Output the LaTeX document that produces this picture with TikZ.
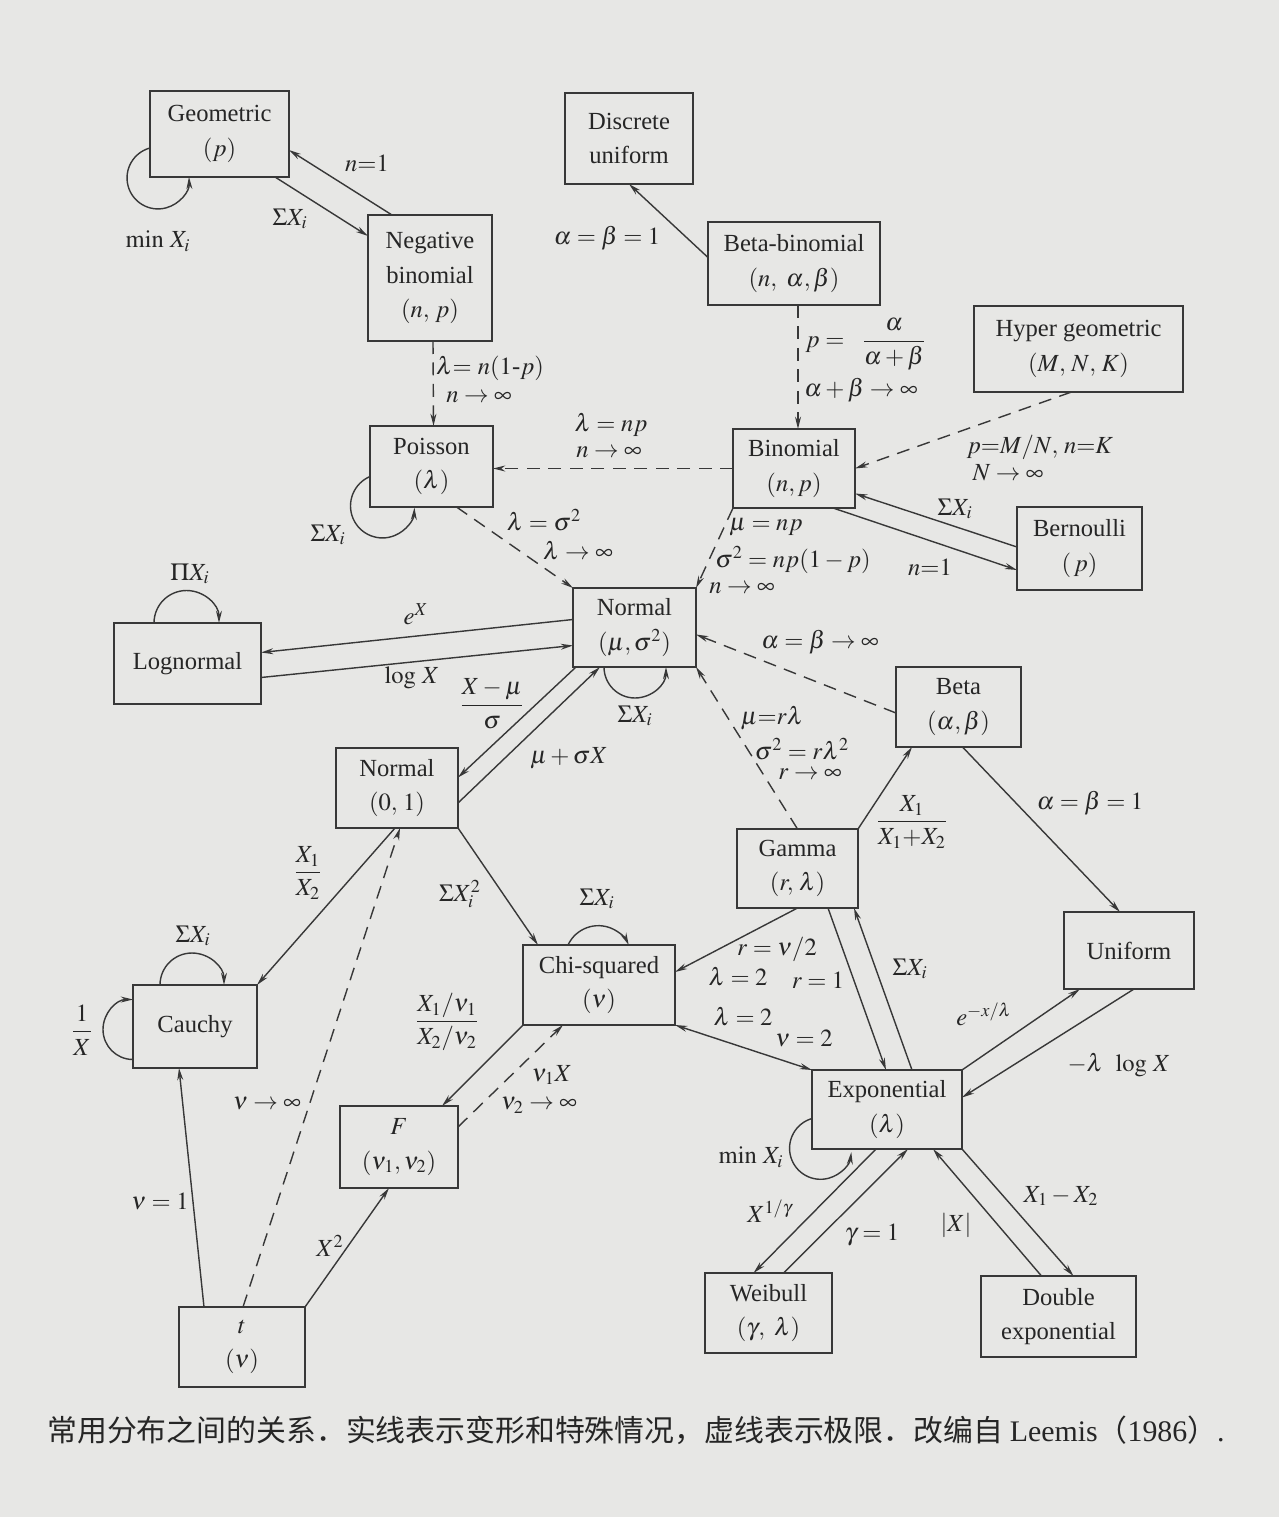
\documentclass[tikz,border=0pt]{standalone}
\usepackage{amsmath}
\usepackage{mathptmx}
\usepackage{fontspec}
\setmainfont{Liberation Serif}
\newfontfamily\cjk{Noto Sans CJK SC}
\usetikzlibrary{arrows.meta,calc}

\definecolor{bgc}{HTML}{E7E7E5}
\definecolor{linec}{HTML}{383838}
\definecolor{textc}{HTML}{262626}

\tikzset{
  wh/.style 2 args={minimum width=#1*0.02cm, minimum height=#2*0.02cm},
  box/.style={draw=linec, line width=0.9pt, inner sep=0pt, outer sep=0pt,
    align=center, text=textc, font=\fontsize{14}{19.5}\selectfont},
  lbl/.style={inner sep=0pt, text=textc, font=\fontsize{14}{17}\selectfont},
  arr/.style={draw=linec, line width=0.8pt, -{Stealth[length=7pt,width=3.4pt]}},
  twoway/.style={draw=linec, line width=0.8pt,
    {Stealth[length=7pt,width=3.4pt]}-{Stealth[length=7pt,width=3.4pt]}},
  limline/.style={dash pattern=on 0.26cm off 0.17cm},
}

\begin{document}
\begin{tikzpicture}[x=0.02cm,y=-0.02cm]
\fill[bgc] (0,0) rectangle (1279,1517);
\useasboundingbox (0,0) rectangle (1279,1517);

% ---------- distributions ----------
\node[box, wh={139}{86}]  (geo)  at (219.5,134)  {Geometric\\$(p)$};
\node[box, wh={124}{126}] (nb)   at (430,278)    {Negative\\binomial\\$(n,\,p)$};
\node[box, wh={128}{91}]  (disc) at (629,138.5)  {Discrete\\uniform};
\node[box, wh={172}{83}]  (bb)   at (794,263.5)  {Beta-binomial\\$(n,\ \alpha,\beta)$};
\node[box, wh={209}{86}]  (hyp)  at (1078.5,349) {Hyper geometric\\$(M,\,N,\,K)$};
\node[box, wh={123}{81}]  (poi)  at (431.5,466.5){Poisson\\$(\lambda)$};
\node[box, wh={122}{79}]  (bin)  at (794,468.5)  {Binomial\\$(n,p)$};
\node[box, wh={125}{83}]  (bern) at (1079.5,548.5){Bernoulli\\$(\,p)$};
\node[box, wh={123}{79}]  (nor)  at (634.5,627.5){Normal\\$(\mu,\sigma^2)$};
\node[box, wh={147}{81}]  (logn) at (187.5,663.5){Lognormal};
\node[box, wh={125}{80}]  (beta) at (958.5,707)  {Beta\\$(\alpha,\beta)$};
\node[box, wh={122}{80}]  (n01)  at (397,788)    {Normal\\$(0,\,1)$};
\node[box, wh={121}{79}]  (gam)  at (797.5,868.5){Gamma\\$(r,\,\lambda)$};
\node[box, wh={130}{77}]  (uni)  at (1129,950.5) {Uniform};
\node[box, wh={124}{83}]  (cau)  at (195,1026.5) {Cauchy};
\node[box, wh={152}{80}]  (chi)  at (599,985)    {Chi-squared\\$(\nu)$};
\node[box, wh={150}{79}]  (exp)  at (887,1109.5) {Exponential\\$(\lambda)$};
\node[box, wh={118}{82}]  (fd)   at (399,1147)   {$F$\\$(\nu_1,\nu_2)$};
\node[box, wh={127}{80}]  (wei)  at (768.5,1313) {Weibull\\$(\gamma,\ \lambda)$};
\node[box, wh={155}{81}]  (dexp) at (1058.5,1316.5){Double\\exponential};
\node[box, wh={126}{80}]  (tt)   at (242,1347)   {$t$\\$(\nu)$};

% ---------- transformations and special cases ----------
\draw[arr] ($(nb.north west)+(24,0)$) -- ($(geo.east)+(0,16)$);
\draw[arr] ($(geo.south east)+(-14,0)$) -- ($(nb.north west)+(0,21)$);
\draw[arr] ($(geo.west)+(0,14)$) arc[start angle=105,end angle=362,radius=0.62cm];

\draw[arr] ($(bb.west)+(0,-6)$) -- (disc.south);

\draw[arr] ($(bern.west)+(0,-1.5)$) -- ($(bin.east)+(0,25)$);
\draw[arr] ($(bin.south east)+(-22,0)$) -- ($(bern.west)+(0,21.5)$);

\draw[arr] ($(poi.west)+(0,10)$) arc[start angle=113,end angle=357,radius=0.64cm];

\draw[arr] ($(nor.west)+(0,-8)$) -- ($(logn.east)+(0,-11)$);
\draw[arr] ($(logn.east)+(0,14)$) -- ($(nor.west)+(0,18)$);
\draw[arr] ($(logn.north west)+(40,0)$) arc[start angle=180,end angle=0,radius=0.65cm];
\draw[arr] ($(nor.south west)+(31,0)$) arc[start angle=180,end angle=360,radius=0.62cm];

\draw[arr] ($(nor.south west)+(3,0)$) -- ($(n01.east)+(0,-10.5)$);
\draw[arr] ($(n01.east)+(0,15)$) -- ($(nor.south west)+(27,0)$);

\draw[arr] (gam.north east) -- ($(beta.south west)+(16,0)$);
\draw[arr] ($(beta.south)+(4,0)$) -- ($(uni.north)+(-9,0)$);

\draw[arr] ($(n01.south)+(-2,0)$) -- (cau.north east);
\draw[arr] (n01.south east) -- ($(chi.north west)+(15,0)$);

\draw[arr] ($(cau.north west)+(27,0)$) arc[start angle=180,end angle=0,radius=0.64cm];
\draw[arr] ($(cau.west)+(0,33)$) arc[start angle=270,end angle=90,radius=0.6cm];

\draw[arr] ($(tt.north west)+(25,0)$) -- ($(cau.south)+(-16,0)$);
\draw[arr] (tt.north east) -- ($(fd.south)+(-10,0)$);

\draw[arr] (chi.south west) -- ($(fd.north east)+(-16,0)$);
\draw[arr] ($(chi.north west)+(45,0)$) arc[start angle=155,end angle=25,radius=0.67cm];

\draw[arr] (gam.south) -- ($(chi.east)+(0,-13)$);
\draw[twoway] (chi.south east) -- (exp.north west);
\draw[arr] ($(gam.south east)+(-30,0)$) -- ($(exp.north)+(-1,0)$);
\draw[arr] ($(exp.north)+(25,0)$) -- ($(gam.south east)+(-4,0)$);

\draw[arr] (exp.north east) -- ($(uni.south)+(-49,0)$);
\draw[arr] ($(uni.south)+(5,0)$) -- ($(exp.east)+(0,-12)$);

\draw[arr] ($(exp.west)+(0,9)$) arc[start angle=106,end angle=353,radius=0.62cm];
\draw[arr] ($(exp.south west)+(64,0)$) -- ($(wei.north)+(-15,0)$);
\draw[arr] ($(wei.north)+(15,0)$) -- ($(exp.south west)+(96,0)$);
\draw[arr] ($(dexp.north)+(-17,0)$) -- ($(exp.south west)+(121,0)$);
\draw[arr] (exp.south east) -- ($(dexp.north)+(15,0)$);

% ---------- limits ----------
\draw[arr,limline] ($(nb.south)+(3,0)$) -- ($(poi.north)+(2,0)$);
\draw[arr,limline] ($(bb.south)+(4,0)$) -- ($(bin.north)+(4,0)$);
\draw[arr,limline] ($(hyp.south)+(-7,0)$) -- (bin.east);
\draw[arr,limline] (bin.west) -- (bin.west -| poi.east);
\draw[arr,limline] (bin.south west) -- (nor.north east);
\draw[arr,limline] ($(poi.south)+(25,0)$) -- (nor.north west);
\draw[arr,limline] ($(beta.west)+(0,6)$) -- ($(nor.east)+(0,7)$);
\draw[arr,limline] (gam.north) -- (nor.south east);
\draw[arr,limline] ($(tt.north)+(1,0)$) -- ($(n01.south)+(3,0)$);
\draw[arr,limline] ($(fd.north east)+(0,21)$) -- ($(chi.south west)+(40,0)$);

% ---------- labels ----------
\node[lbl] (l01) at (367,163)  {$n{=}1$};
\node[lbl] (l02) at (290,219)  {$\Sigma X_i$};
\node[lbl] (l03) at (158,241)  {$\mathrm{min}\ X_i$};
\node[lbl] (l04) at (607,238)  {$\alpha=\beta=1$};
\node[lbl] (l05) at (490,368)  {$\lambda{=}\ n(1\mbox{-}p)$};
\node[lbl] (l06) at (479,397)  {$n\rightarrow\infty$};
\node[lbl] (l07) at (866,344)  {$p=\ \ \dfrac{\alpha}{\alpha+\beta}$};
\node[lbl] (l08) at (861,390)  {$\alpha+\beta\rightarrow\infty$};
\node[lbl] (l09) at (1040,447) {$p{=}M/N,\,n{=}K$};
\node[lbl] (l10) at (1008,473) {$N\rightarrow\infty$};
\node[lbl] (l11) at (611,425)  {$\lambda=np$};
\node[lbl] (l12) at (609,452)  {$n\rightarrow\infty$};
\node[lbl] (l13) at (955,509)  {$\Sigma X_i$};
\node[lbl] (l14) at (930,567)  {$n{=}1$};
\node[lbl] (l15) at (544,520)  {$\lambda=\sigma^2$};
\node[lbl] (l16) at (578,551)  {$\lambda\rightarrow\infty$};
\node[lbl] (l17) at (766,527)  {$\mu=np$};
\node[lbl] (l18) at (793,560)  {$\sigma^2=np(1-p)$};
\node[lbl] (l19) at (742,588)  {$n\rightarrow\infty$};
\node[lbl] (l20) at (328,535)  {$\Sigma X_i$};
\node[lbl] (l21) at (190,574)  {$\Pi X_i$};
\node[lbl] (l22) at (416,614)  {$e^X$};
\node[lbl] (l23) at (412,678)  {$\mathrm{log}\ X$};
\node[lbl] (l24) at (492,704)  {$\dfrac{X-\mu}{\sigma}$};
\node[lbl] (l25) at (635,716)  {$\Sigma X_i$};
\node[lbl] (l26) at (569,758)  {$\mu+\sigma X$};
\node[lbl] (l27) at (820,642)  {$\alpha=\beta\rightarrow\infty$};
\node[lbl] (l28) at (772,718)  {$\mu{=}r\lambda$};
\node[lbl] (l29) at (802,749)  {$\sigma^2=r\lambda^2$};
\node[lbl] (l30) at (810,774)  {$r\rightarrow\infty$};
\node[lbl] (l31) at (912,822)  {$\dfrac{X_1}{X_1{+}X_2}$};
\node[lbl] (l32) at (1090,803) {$\alpha=\beta=1$};
\node[lbl] (l33) at (308,873)  {$\dfrac{X_1}{X_2}$};
\node[lbl] (l34) at (460,894)  {$\Sigma X_i^2$};
\node[lbl] (l35) at (193,936)  {$\Sigma X_i$};
\node[lbl] (l36) at (82,1030)  {$\dfrac{1}{X}$};
\node[lbl] (l37) at (597,899)  {$\Sigma X_i$};
\node[lbl] (l38) at (777,949)  {$r=\nu/2$};
\node[lbl] (l39) at (738,977)  {$\lambda=2$};
\node[lbl] (l40) at (818,980)  {$r=1$};
\node[lbl] (l41) at (743,1017) {$\lambda=2$};
\node[lbl] (l42) at (804,1038) {$\nu=2$};
\node[lbl] (l43) at (910,969)  {$\Sigma X_i$};
\node[lbl] (l44) at (984,1014) {$e^{-x/\lambda}$};
\node[lbl] (l45) at (1119,1065){$-\lambda\ \ \mathrm{log}\ X$};
\node[lbl] (l46) at (447,1022) {$\dfrac{X_1/\nu_1}{X_2/\nu_2}$};
\node[lbl] (l47) at (552,1075) {$\nu_1X$};
\node[lbl] (l48) at (539,1105) {$\nu_2\rightarrow\infty$};
\node[lbl] (l49) at (267,1103) {$\nu\rightarrow\infty$};
\node[lbl] (l50) at (160,1201) {$\nu=1$};
\node[lbl] (l51) at (330,1246) {$X^2$};
\node[lbl] (l52) at (751,1157) {$\mathrm{min}\ X_i$};
\node[lbl] (l53) at (770,1211) {$X^{1/\gamma}$};
\node[lbl] (l54) at (872,1235) {$\gamma=1$};
\node[lbl] (l55) at (956,1225) {$|X|$};
\node[lbl] (l56) at (1061,1196){$X_1-X_2$};

% ---------- caption ----------
\node[inner sep=0pt, text=textc, font=\cjk\fontsize{17}{19}\selectfont] (cap) at (636,1430)
  {常用分布之间的关系．实线表示变形和特殊情况，虚线表示极限．改编自 {\rmfamily Leemis}（{\rmfamily 1986}）{\rmfamily .}};
\end{tikzpicture}
\end{document}
